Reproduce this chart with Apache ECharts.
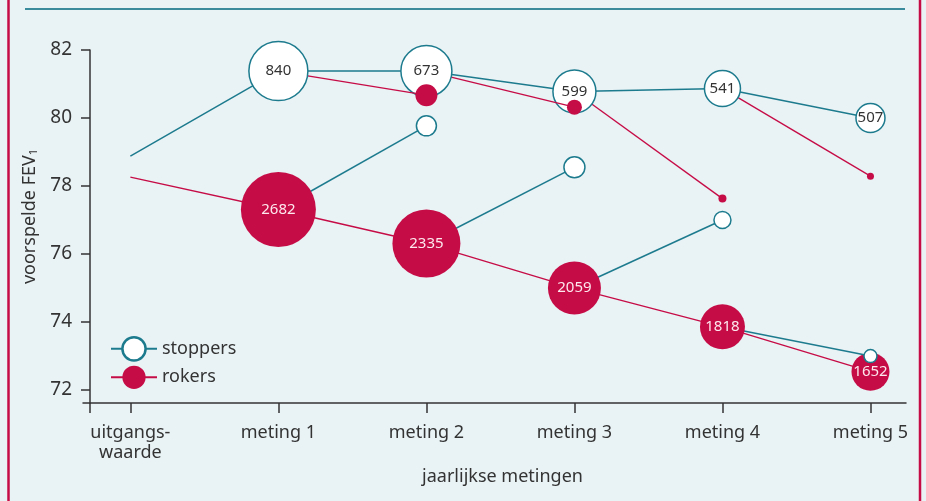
<!DOCTYPE html>
<html>
<head>
<meta charset="utf-8">
<script src="https://cdn.jsdelivr.net/npm/echarts@6/dist/echarts.min.js"></script>
<style>
  html, body { margin: 0; padding: 0; background: #e9f2f5; }
  #chart { width: 926px; height: 501px; }
</style>
</head>
<body>
<div id="chart"></div>
<script>
// categorieën en ticks
var categories = ['uitgangs-\nwaarde', 'meting 1', 'meting 2', 'meting 3', 'meting 4', 'meting 5'];
var yTicks = [72, 74, 76, 78, 80, 82];

// hoofdgroepen: voorspelde FEV1 en aantallen
var stoppersFev = [78.88, 81.38, 81.38, 80.78, 80.87, 80.0];
var stoppersN = [null, 840, 673, 599, 541, 507];
var rokersFev = [78.26, 77.31, 76.31, 75.0, 73.86, 72.54];
var rokersN = [null, 2682, 2335, 2059, 1818, 1652];

// stoppers die weer gaan roken (van meting 1..4 naar de volgende meting)
var hervallersFev = [80.67, 80.32, 77.63, 78.29];
// rokers die stoppen (van meting 1..4 naar de volgende meting)
var nieuweStoppersFev = [79.77, 78.55, 77.0, 73.0];

// stijl: diameters van de cirkels
var stoppersSize = [0, 59, 51, 43, 36, 29];
var rokersSize = [0, 75, 68, 53, 45, 38];
var hervallersSize = [22, 15, 8, 7];
var nieuweStoppersSize = [20, 21, 17, 13];

var TEAL = '#1d7b8e';
var RED = '#c60c46';
var TXT = '#333';
var FONT = 'Noto Sans';

var chart = echarts.init(document.getElementById('chart'));

var series = [];

// doorlopende lijnen (onderste laag)
series.push({
  name: 'stoppers', type: 'line', z: 1, symbol: 'none',
  lineStyle: { color: TEAL, width: 1.5 }, itemStyle: { color: TEAL },
  data: stoppersFev.map(function (v, i) { return [i, v]; })
});
series.push({
  name: 'rokers', type: 'line', z: 1, symbol: 'none',
  lineStyle: { color: RED, width: 1.3 }, itemStyle: { color: RED },
  data: rokersFev.map(function (v, i) { return [i, v]; })
});

// van rechts naar links tekenen, zodat elke zijtak boven de doelcirkel
// en onder de broncirkel ligt
for (var k = 5; k >= 1; k--) {
  var zc = 10 + (5 - k) * 2;
  series.push({
    type: 'scatter', z: zc, symbolSize: stoppersSize[k],
    itemStyle: { color: '#fff', borderColor: TEAL, borderWidth: 1.5, opacity: 1 },
    label: { show: true, position: 'inside', formatter: String(stoppersN[k]), color: TXT, fontSize: 15, fontFamily: FONT },
    data: [[k, stoppersFev[k]]]
  });
  series.push({
    type: 'scatter', z: zc, symbolSize: rokersSize[k],
    itemStyle: { color: RED, opacity: 1 },
    label: { show: true, position: 'inside', formatter: String(rokersN[k]), color: '#fde8ee', fontSize: 15, fontFamily: FONT },
    data: [[k, rokersFev[k]]]
  });

  var i = k - 2; // zijtak die in meting k eindigt
  if (i >= 0) {
    (function (i) {
      series.push({
        type: 'line', z: zc + 1, showSymbol: true, symbol: 'circle',
        symbolSize: function (v, p) { return p.dataIndex === 0 ? 0 : hervallersSize[i]; },
        lineStyle: { color: RED, width: 1.3 }, itemStyle: { color: RED },
        data: [[i + 1, stoppersFev[i + 1]], [i + 2, hervallersFev[i]]]
      });
      series.push({
        type: 'line', z: zc + 1, showSymbol: true, symbol: 'circle',
        symbolSize: function (v, p) { return p.dataIndex === 0 ? 0 : nieuweStoppersSize[i]; },
        lineStyle: { color: TEAL, width: 1.5 }, itemStyle: { color: '#fff', borderColor: TEAL, borderWidth: 1.5 },
        data: [[i + 1, rokersFev[i + 1]], [i + 2, nieuweStoppersFev[i]]]
      });
    })(i);
  }
}

var option = {
  animation: false,
  backgroundColor: '#e9f2f5',
  textStyle: { fontFamily: FONT },
  grid: { left: 83, right: 20, top: 50, bottom: 98 },
  legend: {
    orient: 'vertical', left: 105, top: 331,
    itemWidth: 46, itemHeight: 29, itemGap: 4,
    selectedMode: false,
    textStyle: { fontSize: 18, color: TXT, fontFamily: FONT },
    data: [
      { name: 'stoppers', itemStyle: { color: '#fff', borderColor: TEAL, borderWidth: 2.5 } },
      { name: 'rokers', itemStyle: { color: RED } }
    ]
  },
  xAxis: {
    type: 'value', min: -0.32, max: 5.24,
    name: 'jaarlijkse metingen', nameLocation: 'middle', nameGap: 64,
    nameTextStyle: { fontSize: 18, color: TXT, fontFamily: FONT, padding: [0, 0, 0, 16] },
    axisLine: { onZero: false, lineStyle: { color: TXT, width: 1.5 } },
    axisTick: { show: true, length: 10, customValues: [-0.273, 0, 1, 2, 3, 4, 5], lineStyle: { color: TXT, width: 1.5 } },
    axisLabel: {
      customValues: [0, 1, 2, 3, 4, 5],
      formatter: function (v) { return categories[Math.round(v)]; },
      fontSize: 18, color: TXT, margin: 20, lineHeight: 20, fontFamily: FONT
    },
    splitLine: { show: false }
  },
  yAxis: {
    type: 'value', min: 71.62, max: 82, offset: -7,
    name: 'voorspelde FEV{s|1}', nameLocation: 'middle', nameGap: 46,
    nameTextStyle: {
      fontSize: 18, color: TXT, fontFamily: FONT, padding: [0, 0, 0, 20],
      rich: { s: { fontSize: 11, color: TXT, verticalAlign: 'bottom', padding: [8, 0, 0, 0] } }
    },
    axisLine: { show: true, onZero: false, lineStyle: { color: TXT, width: 1.5 } },
    axisTick: { show: true, length: 9, customValues: yTicks, lineStyle: { color: TXT, width: 1.5 } },
    axisLabel: { customValues: yTicks, fontSize: 19, color: TXT, margin: 18, fontFamily: FONT },
    splitLine: { show: false }
  },
  graphic: [
    { type: 'line', z: 100, shape: { x1: 8.5, y1: 0, x2: 8.5, y2: 501 }, style: { stroke: RED, lineWidth: 2.5 } },
    { type: 'line', z: 100, shape: { x1: 920, y1: 0, x2: 920, y2: 501 }, style: { stroke: RED, lineWidth: 2.5 } },
    { type: 'line', z: 100, shape: { x1: 25, y1: 9, x2: 905, y2: 9 }, style: { stroke: '#3a8b9b', lineWidth: 2 } }
  ],
  series: series
};

chart.setOption(option);
window.addEventListener('resize', function () { chart.resize(); });
</script>
</body>
</html>
